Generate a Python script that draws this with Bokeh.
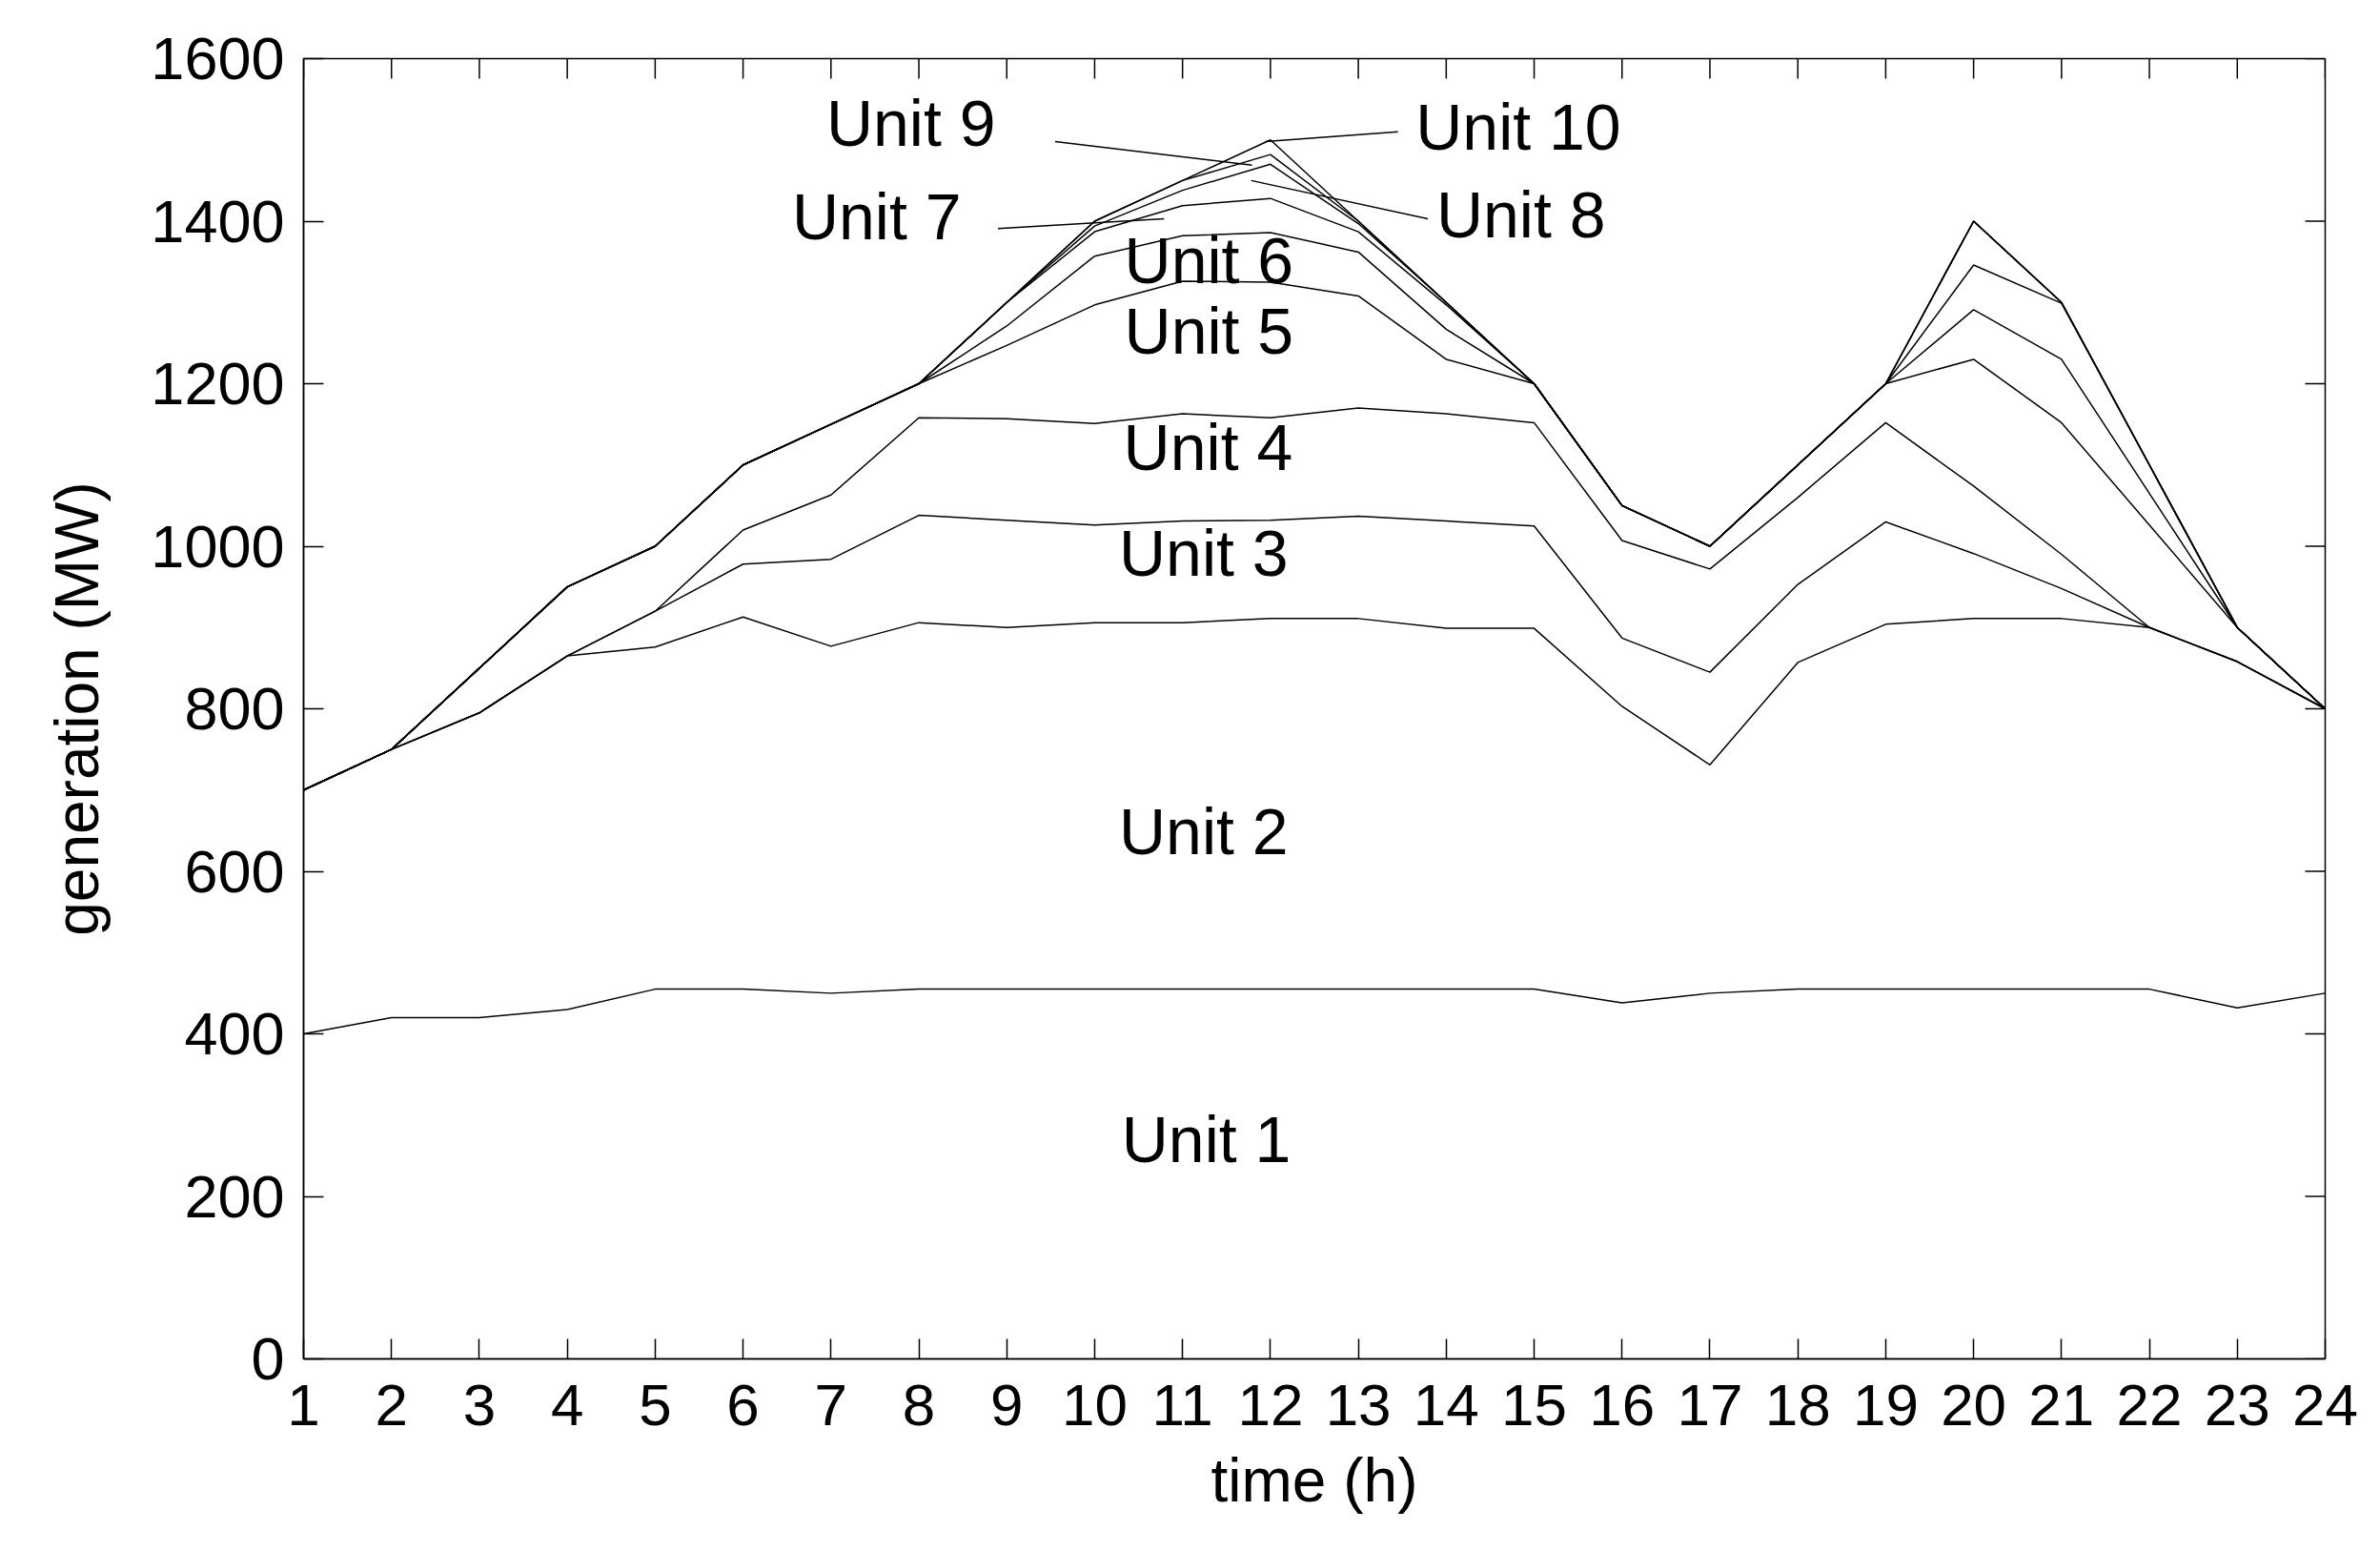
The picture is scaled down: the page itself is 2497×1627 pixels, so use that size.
import math
from bokeh.plotting import figure
from bokeh.models import Range1d, FixedTicker, ColumnDataSource
from bokeh.embed import file_html
from bokeh.resources import INLINE
from bokeh.core.properties import value

# ---------------- data (cumulative generation, MW) ----------------
hours = list(range(1, 25))
cum_unit1 = [400, 420, 420, 430, 455, 455, 450, 455, 455, 455, 455, 455,
             455, 455, 455, 438, 450, 455, 455, 455, 455, 455, 432, 450]
cum_unit2 = [700, 750, 795, 865, 876, 913, 877, 906, 900, 906, 906, 911,
             911, 899, 899, 803, 731, 857, 904, 911, 911, 900, 858, 800]
cum_unit3 = [700, 750, 795, 865, 920, 978, 984, 1038, 1032, 1026, 1031, 1032,
             1037, 1031, 1025, 887, 845, 953, 1030, 991, 948, 900, 858, 800]
cum_unit4 = [700, 750, 795, 865, 920, 1020, 1063, 1158, 1157, 1151, 1163, 1158,
             1170, 1163, 1152, 1007, 972, 1060, 1152, 1074, 990, 900, 858, 800]
cum_unit5 = [700, 750, 850, 950, 1000, 1100, 1150, 1200, 1247, 1297, 1326, 1325,
             1308, 1230, 1200, 1050, 1000, 1100, 1200, 1230, 1152, 1026, 900, 800]
cum_unit6 = [700, 750, 850, 950, 1000, 1100, 1150, 1200, 1271, 1357, 1382, 1386,
             1362, 1267, 1200, 1050, 1000, 1100, 1200, 1291, 1230, 1065, 900, 800]
cum_unit7 = [700, 750, 850, 950, 1000, 1100, 1150, 1200, 1300, 1387, 1419, 1428,
             1387, 1297, 1200, 1050, 1000, 1100, 1200, 1346, 1299, 1100, 900, 800]
cum_unit8 = [700, 750, 850, 950, 1000, 1100, 1150, 1200, 1300, 1394, 1438, 1470,
             1397, 1300, 1200, 1050, 1000, 1100, 1200, 1400, 1300, 1100, 900, 800]
cum_unit9 = [700, 750, 850, 950, 1000, 1100, 1150, 1200, 1300, 1400, 1450, 1482,
             1400, 1300, 1200, 1050, 1000, 1100, 1200, 1400, 1300, 1100, 900, 800]
cum_unit10 = [700, 750, 850, 950, 1000, 1100, 1150, 1200, 1300, 1400, 1450, 1500,
              1400, 1300, 1200, 1050, 1000, 1100, 1200, 1400, 1300, 1100, 900, 800]

label_text = ["Unit 1", "Unit 2", "Unit 3", "Unit 4", "Unit 5", "Unit 6",
              "Unit 7", "Unit 8", "Unit 9", "Unit 10"]
label_x = [11.27, 11.24, 11.24, 11.29, 11.30, 11.30, 7.52, 14.85, 7.91, 14.82]
label_y = [270, 649, 992, 1122, 1265, 1352, 1406, 1408, 1521, 1516]

leader_x0 = [8.90, 11.78, 9.55, 11.94]
leader_y0 = [1391, 1450, 1498, 1498]
leader_x1 = [10.79, 13.79, 11.79, 13.45]
leader_y1 = [1403, 1403, 1469, 1510]

y_ticks = [0, 200, 400, 600, 800, 1000, 1200, 1400, 1600]

# ---------------- figure ----------------
FONT = "Liberation Sans"
X0, X1, Y0, Y1 = 1, 24, 0, 1600
p = figure(width=2480, height=1627, output_backend="svg", toolbar_location=None,
           x_range=Range1d(X0, X1), y_range=Range1d(Y0, Y1),
           min_border_left=318, min_border_right=41,
           min_border_top=61, min_border_bottom=202)
p.grid.visible = False
p.background_fill_color = "white"
p.border_fill_color = "white"
p.outline_line_color = "black"
p.outline_line_width = 1.5

series = [cum_unit1, cum_unit2, cum_unit3, cum_unit4, cum_unit5,
          cum_unit6, cum_unit7, cum_unit8, cum_unit9, cum_unit10]
for s in series:
    p.line(hours, s, line_color="black", line_width=1.5)

p.segment(x0=leader_x0, y0=leader_y0, x1=leader_x1, y1=leader_y1,
          line_color="black", line_width=1.5)

src = ColumnDataSource(dict(x=label_x, y=label_y, t=label_text))
p.text(x="x", y="y", text="t", source=src, text_font=value(FONT),
       text_font_size="68px", text_align="center", text_baseline="alphabetic",
       text_color="black")

# inward ticks on the top and right frame edges
p.ray(x=hours, y=[Y1] * len(hours), length=21, length_units="screen",
      angle=-math.pi / 2, line_color="black", line_width=1.5)
p.ray(x=[X1] * len(y_ticks), y=y_ticks, length=21, length_units="screen",
      angle=math.pi, line_color="black", line_width=1.5)

def style_axis(ax, ticks):
    ax.ticker = FixedTicker(ticks=ticks)
    ax.major_tick_in = 21
    ax.major_tick_out = 0
    ax.minor_tick_line_color = None
    ax.major_tick_line_color = "black"
    ax.major_tick_line_width = 1.5
    ax.axis_line_color = "black"
    ax.axis_line_width = 1.5
    ax.major_label_text_font = FONT
    ax.major_label_text_color = "black"
    ax.axis_label_text_font = FONT
    ax.axis_label_text_font_style = "normal"
    ax.axis_label_text_color = "black"

xa = p.xaxis[0]
style_axis(xa, hours)
xa.axis_label = "time (h)"
xa.major_label_text_font_size = "62px"
xa.axis_label_text_font_size = "64px"
xa.major_label_standoff = 27
xa.axis_label_standoff = 19

ya = p.yaxis[0]
style_axis(ya, y_ticks)
ya.axis_label = "generation (MW)"
ya.major_label_text_font_size = "63px"
ya.axis_label_text_font_size = "64px"
ya.major_label_standoff = 20
ya.axis_label_standoff = 38

open("out.html", "w").write(file_html(p, INLINE))
